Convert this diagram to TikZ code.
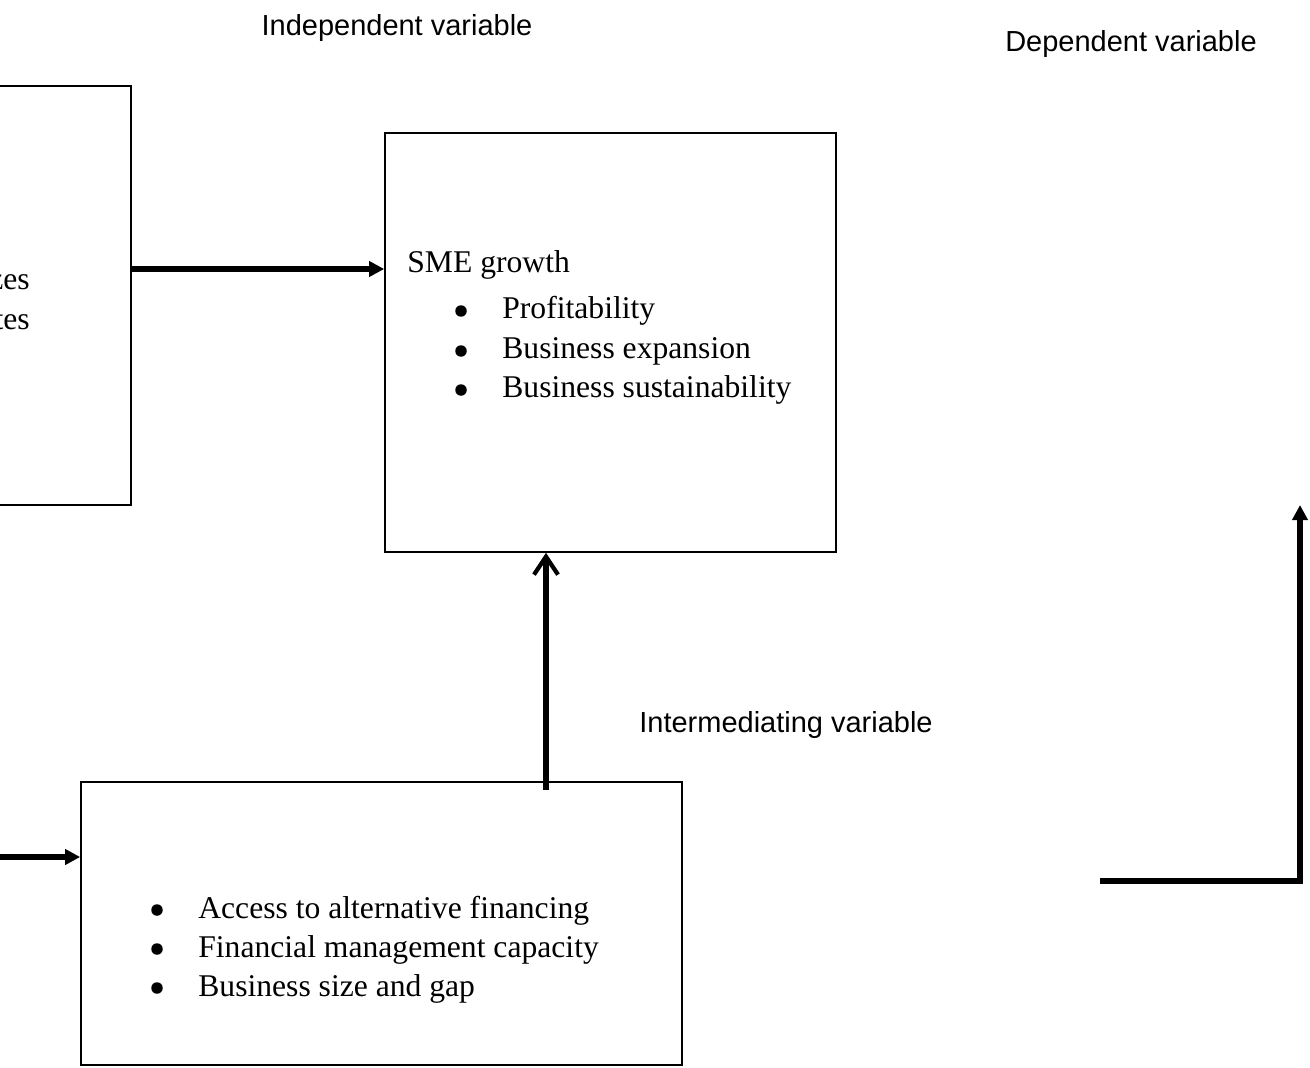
\documentclass[tikz,border=0pt]{standalone}
\usepackage{fontspec}
\setmainfont{Liberation Serif}
\setsansfont{Liberation Sans}
\usetikzlibrary{arrows.meta, positioning}

\begin{document}
\begin{tikzpicture}[
    x=0.02cm, y=-0.02cm,
    box/.style = {rectangle, draw=black, line width=1pt, inner sep=0pt},
    item/.style = {anchor=base west, inner sep=0pt, font=\fontsize{18}{22}\selectfont},
    dot/.style = {circle, fill=black, inner sep=0pt, minimum size=0.23cm},
    varlabel/.style = {anchor=base, inner sep=0pt, font=\sffamily\fontsize{16.5}{20}\selectfont},
    flow/.style = {-{Triangle[length=0.3cm, width=0.3cm]}, line width=2.9pt},
    flowopen/.style = {-{Straight Barb[length=0.36cm, width=0.48cm, line width=2.4pt]}, line width=2.9pt}
]
\useasboundingbox (0,0) rectangle (1310,1067);

% Boxes
\node[box, minimum width=7.62cm, minimum height=8.38cm] (indep) at (-59.5,295.5) {};
\node[box, minimum width=9.02cm, minimum height=8.38cm] (growth) at (610.5,342.5) {};
\node[box, minimum width=12.02cm, minimum height=5.66cm] (mediator) at (381.5,923.5) {};

% Variable labels
\node[varlabel] (lblindep) at (397,36) {Independent variable};
\node[varlabel] (lbldep) at (1131,52) {Dependent variable};
\node[varlabel] (lblmed) at (786,732) {Intermediating variable};

% Left box (cut at page edge)
\node[item, anchor=base east] (indep1) at (30,290) {zes};
\node[item, anchor=base east] (indep2) at (30,329) {tes};

% SME growth box
\node[item] (growthtitle) at (407,273) {SME growth};
\node[dot] (gd1) at (461,311) {};
\node[item] (g1) at (502,318) {Profitability};
\node[dot] (gd2) at (461,351) {};
\node[item] (g2) at (502,358) {Business expansion};
\node[dot] (gd3) at (461,390) {};
\node[item] (g3) at (502,397) {Business sustainability};

% Intermediating box
\node[dot] (md1) at (157,910) {};
\node[item] (m1) at (198,918) {Access to alternative financing};
\node[dot] (md2) at (157,949) {};
\node[item] (m2) at (198,957) {Financial management capacity};
\node[dot] (md3) at (157,988) {};
\node[item] (m3) at (198,996) {Business size and gap};

% Free ends of connectors
\coordinate (upstart) at (546,790);
\coordinate (inleft) at (-30,857);
\coordinate (fbstart) at (1100,881);
\coordinate (fbend) at (1300,505);

% Connectors
\draw[flow] (indep.east |- 0,269) -- (growth.west |- 0,269);
\draw[flowopen] (upstart) -- (growth.south -| upstart);
\draw[flow] (inleft) -- (mediator.west |- inleft);
\draw[flow] (fbstart) -| (fbend);

\end{tikzpicture}
\end{document}
